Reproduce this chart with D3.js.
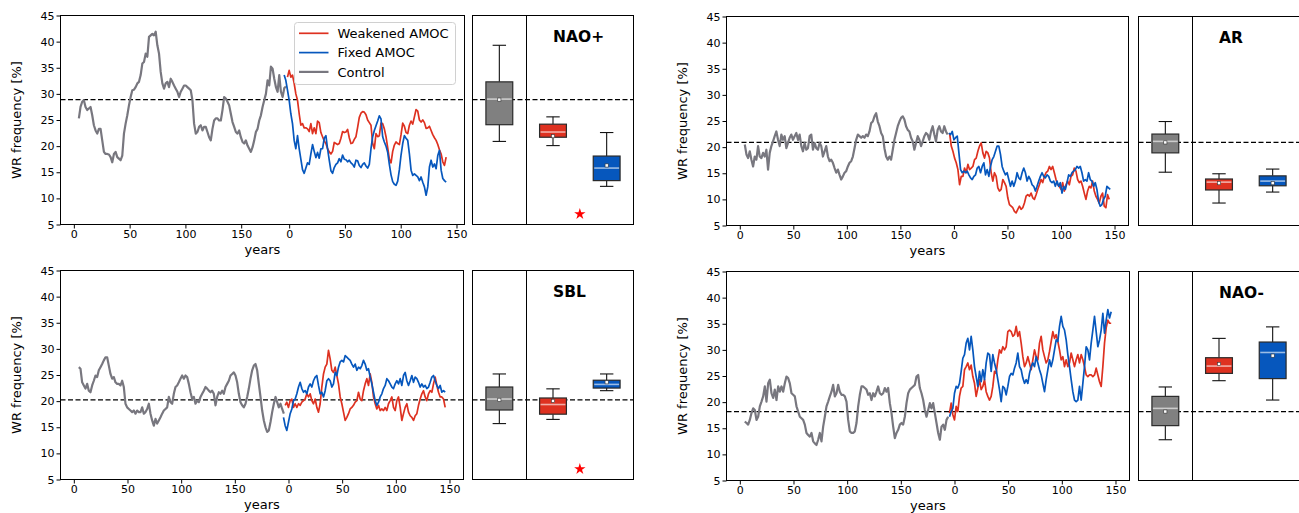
<!DOCTYPE html>
<html>
<head>
<meta charset="utf-8">
<script src="https://cdn.jsdelivr.net/npm/d3@7"></script>
<style>
body { margin: 0; background: #fff; }
text { font-family: "DejaVu Sans", sans-serif; fill: #000; }
</style>
</head>
<body>
<svg class="canvas"></svg>
<script>

// WR frequency [%], running values sampled every STEP years
// control years run from the start value, experiment years from their own start

var naoPlusCtl = [
	25.3, 27.5, 28.5, 28.8, 27.5, 26.9, 27.2, 27.5, 25.9, 24.0,
	23.0, 22.4, 23.3, 23.3, 21.1, 18.9, 18.5, 18.5, 18.4, 17.9,
	16.9, 18.5, 18.9, 17.9, 17.6, 17.3, 18.2, 22.4, 24.3, 25.9,
	27.8, 29.4, 30.7, 30.8, 31.3, 32.0, 32.3, 33.6, 35.8, 36.1,
	37.7, 37.1, 40.9, 41.2, 41.5, 41.2, 41.9, 39.3, 37.7, 34.2,
	32.0, 31.0, 32.0, 32.3, 31.3, 32.9, 32.3, 31.6, 31.0, 30.4,
	29.4, 30.4, 31.0, 31.6, 31.6, 31.3, 31.0, 30.7, 28.8, 24.3,
	22.4, 22.7, 23.7, 24.0, 23.0, 23.7, 23.7, 22.7, 21.7, 21.1,
	23.3, 24.9, 25.3, 25.3, 24.9, 24.9, 26.9, 29.4, 29.1, 28.5,
	27.8, 26.2, 24.6, 23.7, 22.7, 22.4, 23.0, 21.7, 20.8, 20.5,
	21.1, 20.1, 19.5, 18.9, 19.8, 21.1, 22.7, 23.3, 24.9, 25.9,
	27.5, 28.8, 30.0, 32.6, 31.6, 35.2, 34.8, 32.9, 31.3, 30.4,
	33.6, 30.4, 29.4, 31.1, 31.4];
var naoPlusWeak = [
	33.2, 34.5, 33.2, 33.6, 32.0, 30.0, 28.8, 26.2, 24.0, 24.3,
	23.5, 23.5, 23.3, 22.8, 24.3, 22.4, 23.5, 22.4, 24.8, 24.5,
	22.6, 21.8, 21.0, 20.5, 19.5, 18.9, 18.5, 19.0, 20.7, 20.5,
	20.3, 20.5, 21.5, 22.8, 22.6, 22.7, 23.2, 21.6, 20.5, 20.6,
	21.3, 21.8, 23.6, 25.5, 26.3, 26.6, 26.5, 26.0, 25.0, 24.5,
	24.0, 20.5, 19.5, 22.4, 21.8, 22.0, 24.4, 24.3, 23.3, 21.8,
	19.7, 17.5, 16.8, 19.0, 20.2, 20.8, 20.5, 20.3, 22.2, 24.4,
	23.8, 22.6, 22.4, 24.0, 24.8, 24.2, 25.6, 27.0, 26.7, 25.0,
	24.6, 25.0, 24.5, 23.4, 23.5, 23.8, 23.0, 22.2, 21.6, 21.1,
	20.3, 19.3, 18.5, 17.0, 16.3, 17.9];
var naoPlusFix = [
	33.6, 32.6, 30.7, 28.8, 26.2, 24.3, 21.1, 19.5, 22.0, 19.5,
	17.5, 15.5, 14.8, 15.8, 16.8, 16.5, 18.5, 20.3, 19.0, 17.8,
	18.8, 17.7, 19.5, 19.5, 21.5, 22.0, 19.5, 17.3, 15.3, 14.8,
	15.9, 16.5, 16.8, 17.6, 17.0, 18.3, 17.5, 17.4, 17.0, 17.3,
	16.8, 16.5, 16.0, 17.3, 17.2, 16.3, 15.9, 16.5, 16.8, 16.2,
	15.8, 16.5, 19.5, 21.8, 23.0, 23.9, 24.8, 25.8, 25.2, 21.8,
	20.8, 20.0, 18.8, 16.5, 14.5, 13.2, 12.7, 12.5, 13.3, 15.5,
	18.3, 20.5, 22.0, 21.5, 21.1, 18.5, 15.4, 14.4, 14.7, 14.4,
	14.1, 13.4, 14.1, 13.1, 12.2, 10.6, 12.2, 16.0, 17.3, 16.0,
	16.6, 15.7, 18.2, 19.2, 15.4, 13.8, 13.4, 13.1];

var arCtl = [
	20.5, 18.6, 17.9, 19.2, 17.6, 16.3, 18.2, 17.6, 20.2, 18.2,
	17.9, 18.9, 18.2, 19.5, 15.7, 18.9, 20.2, 21.1, 22.1, 23.0,
	21.4, 20.2, 22.4, 21.4, 22.1, 19.8, 20.8, 21.8, 22.4, 21.4,
	22.1, 22.7, 21.4, 22.4, 20.2, 19.2, 20.8, 19.5, 19.8, 22.1,
	22.4, 19.5, 20.8, 19.8, 19.5, 20.8, 20.2, 18.2, 19.2, 20.2,
	18.2, 17.3, 17.6, 17.0, 16.0, 15.1, 15.7, 14.7, 13.8, 14.4,
	15.1, 15.4, 16.3, 17.0, 17.3, 18.2, 19.8, 21.4, 22.4, 22.1,
	21.8, 22.1, 21.8, 22.4, 22.1, 23.0, 24.6, 24.9, 25.9, 26.5,
	24.9, 24.0, 22.7, 22.1, 19.8, 18.2, 17.6, 18.2, 17.6, 19.5,
	21.4, 22.7, 24.0, 24.9, 25.6, 25.9, 25.3, 24.0, 23.3, 23.0,
	21.8, 21.1, 19.5, 20.8, 22.1, 21.4, 20.2, 21.1, 22.1, 22.7,
	22.4, 21.4, 23.0, 24.0, 22.4, 21.1, 23.3, 24.0, 23.0, 22.7,
	24.0, 23.0, 22.4];
var arWeak = [
	22.7, 20.2, 19.2, 17.9, 17.0, 15.7, 12.8, 14.4, 14.4, 16.0,
	15.1, 16.7, 15.7, 16.0, 16.3, 17.6, 17.9, 19.2, 20.2, 20.8,
	18.9, 17.9, 19.2, 18.9, 17.9, 15.1, 13.5, 15.1, 14.4, 12.2,
	11.6, 11.9, 13.8, 13.2, 12.5, 10.3, 9.0, 8.7, 8.4, 7.7,
	7.4, 8.1, 8.7, 8.1, 8.4, 9.3, 10.6, 10.9, 10.6, 11.2,
	10.3, 10.0, 10.9, 11.9, 12.8, 13.8, 13.2, 14.4, 15.1, 15.4,
	16.3, 15.7, 16.3, 15.1, 13.8, 12.8, 12.5, 11.9, 13.2, 11.6,
	12.8, 13.5, 12.8, 14.4, 14.7, 16.0, 15.4, 13.8, 13.2, 13.5,
	12.5, 11.2, 10.0, 11.6, 12.5, 12.2, 13.5, 11.6, 10.6, 10.0,
	9.3, 10.6, 11.2, 8.7, 8.4, 10.9, 10.0];
var arFix = [
	22.7, 22.4, 23.0, 21.4, 21.8, 22.1, 18.9, 15.7, 15.1, 15.4,
	15.1, 15.4, 14.7, 14.1, 13.8, 14.4, 14.7, 16.0, 16.3, 15.1,
	16.3, 17.0, 14.7, 15.7, 14.4, 16.3, 17.6, 18.2, 19.2, 20.2,
	20.2, 18.6, 16.3, 15.4, 14.7, 15.1, 13.8, 12.5, 13.5, 12.5,
	13.5, 15.1, 14.1, 13.8, 15.1, 16.0, 15.1, 13.5, 14.4, 13.8,
	12.8, 12.5, 11.6, 12.5, 13.5, 14.4, 15.1, 14.4, 14.1, 14.7,
	14.4, 13.5, 13.2, 13.5, 12.5, 13.5, 12.5, 13.2, 11.2, 12.5,
	11.9, 13.2, 14.7, 14.4, 15.1, 15.4, 15.7, 16.3, 16.0, 16.3,
	15.1, 13.5, 13.8, 13.5, 15.1, 13.8, 13.5, 12.5, 13.2, 11.9,
	9.6, 8.7, 9.0, 10.0, 10.6, 12.5, 12.2, 11.9];

var sblCtl = [
	26.5, 26.2, 23.6, 23.0, 22.4, 23.3, 22.0, 21.7, 23.0, 23.9,
	24.9, 24.6, 25.9, 26.5, 27.1, 27.8, 28.4, 28.4, 26.8, 25.2,
	24.3, 24.6, 23.6, 23.3, 23.3, 23.0, 23.9, 22.7, 19.5, 18.8,
	18.5, 18.2, 17.9, 18.2, 17.6, 18.2, 17.9, 17.9, 18.8, 17.6,
	17.9, 18.5, 19.5, 17.6, 16.3, 15.3, 16.6, 15.7, 16.3, 16.9,
	17.6, 18.2, 18.5, 18.8, 20.8, 19.8, 19.5, 21.4, 22.7, 23.0,
	23.6, 24.3, 24.9, 24.3, 24.9, 24.6, 23.3, 21.7, 20.4, 20.8,
	19.5, 20.1, 19.8, 20.8, 21.4, 22.0, 22.7, 22.4, 22.0, 21.7,
	22.0, 21.4, 19.2, 20.8, 21.7, 21.4, 22.0, 21.4, 22.7, 23.3,
	23.9, 24.9, 25.2, 25.5, 24.9, 23.6, 21.4, 19.8, 19.2, 18.8,
	19.5, 20.8, 22.4, 24.3, 25.9, 26.8, 27.1, 25.9, 23.3, 20.8,
	18.2, 16.3, 15.0, 14.1, 14.4, 16.0, 17.9, 19.5, 20.8, 19.8,
	18.8, 19.5, 18.5, 17.6];
var sblWeak = [
	19.2, 19.8, 18.8, 20.1, 20.4, 18.8, 19.5, 18.8, 19.5, 19.2,
	19.8, 20.1, 20.4, 21.4, 20.8, 21.4, 20.1, 19.5, 20.4, 18.8,
	17.9, 19.5, 22.7, 25.2, 26.5, 27.1, 29.7, 28.1, 25.9, 25.5,
	26.5, 24.9, 23.3, 20.8, 19.5, 17.9, 16.3, 16.9, 17.6, 18.5,
	18.8, 19.2, 19.8, 20.1, 21.7, 20.4, 20.1, 22.0, 23.3, 24.3,
	23.0, 25.2, 23.6, 20.8, 19.5, 18.5, 19.2, 18.2, 18.5, 18.2,
	18.8, 18.2, 19.5, 20.1, 20.8, 18.8, 18.2, 20.1, 20.8, 18.8,
	16.3, 17.6, 18.8, 19.5, 17.9, 17.2, 16.9, 16.3, 17.2, 17.6,
	19.2, 20.4, 21.4, 22.0, 20.8, 20.1, 21.4, 22.0, 21.7, 23.3,
	24.6, 23.0, 21.7, 20.8, 20.8, 20.4, 18.8];
var sblFix = [
	16.9, 15.3, 14.4, 16.0, 17.6, 18.5, 20.1, 20.4, 21.4, 22.7,
	23.6, 22.4, 21.7, 22.0, 21.4, 22.7, 23.3, 22.7, 23.9, 24.6,
	24.9, 23.0, 21.4, 21.7, 20.8, 22.0, 23.9, 24.3, 23.9, 22.7,
	23.3, 25.5, 24.9, 26.5, 27.5, 27.8, 27.5, 28.7, 28.4, 28.1,
	27.8, 27.1, 26.5, 27.1, 25.9, 26.5, 26.2, 26.8, 27.8, 27.1,
	25.9, 26.2, 24.6, 23.3, 21.7, 20.1, 19.2, 19.8, 20.8, 21.4,
	22.4, 23.0, 24.3, 23.9, 23.3, 22.7, 22.4, 23.3, 23.9, 23.3,
	24.3, 23.0, 24.9, 25.5, 23.9, 23.0, 23.9, 24.9, 23.6, 24.6,
	24.3, 23.6, 22.7, 23.3, 22.7, 23.0, 22.4, 22.7, 23.6, 24.6,
	24.9, 23.9, 23.0, 22.4, 23.0, 21.7, 22.0, 21.7];

var naoMinusCtl = [
	16.3, 16.0, 15.7, 16.6, 17.9, 18.8, 18.5, 16.6, 17.2, 19.2,
	20.1, 21.1, 23.0, 20.1, 23.6, 24.3, 21.7, 20.8, 22.4, 20.4,
	23.0, 22.0, 23.0, 22.0, 23.6, 24.9, 24.6, 23.6, 21.7, 21.4,
	21.1, 19.2, 18.2, 17.2, 16.9, 16.6, 15.7, 14.1, 13.7, 13.4,
	14.1, 12.5, 12.1, 11.8, 12.8, 14.1, 12.5, 15.3, 17.2, 19.2,
	20.1, 21.1, 22.0, 23.3, 21.1, 21.7, 23.3, 22.0, 21.4, 21.4,
	21.1, 20.1, 16.6, 14.4, 14.1, 14.1, 14.4, 16.0, 19.2, 21.4,
	23.0, 23.0, 22.7, 22.4, 21.4, 21.7, 20.4, 21.7, 21.1, 22.0,
	23.0, 21.7, 21.4, 21.7, 22.7, 22.0, 22.7, 19.8, 17.9, 15.3,
	13.1, 14.1, 14.7, 15.7, 16.0, 15.7, 17.2, 19.8, 21.7, 22.4,
	22.7, 23.0, 23.3, 24.9, 25.2, 22.7, 21.7, 20.4, 18.5, 17.2,
	18.5, 19.8, 18.8, 19.8, 17.9, 16.0, 14.1, 12.8, 15.3, 15.7,
	14.7, 16.6, 17.2];
var naoMinusWeak = [
	17.9, 19.8, 17.6, 16.6, 19.2, 18.2, 21.1, 22.7, 23.0, 26.2,
	26.8, 27.5, 26.2, 27.1, 24.9, 23.6, 21.1, 22.7, 24.3, 22.4,
	23.0, 24.3, 22.0, 21.1, 20.4, 21.1, 23.0, 25.9, 25.5, 28.1,
	30.0, 29.4, 30.6, 30.0, 30.6, 33.5, 33.8, 33.5, 32.6, 32.9,
	34.5, 32.6, 33.5, 31.3, 28.7, 26.8, 27.5, 28.7, 27.5, 26.2,
	28.1, 30.0, 28.7, 28.1, 31.3, 32.6, 30.0, 28.7, 27.5, 28.1,
	29.7, 31.6, 33.5, 32.2, 32.9, 31.6, 30.0, 28.1, 28.7, 26.8,
	28.1, 26.8, 27.5, 29.4, 28.1, 26.8, 28.1, 29.1, 27.5, 29.1,
	28.1, 26.8, 25.2, 24.9, 25.2, 25.2, 24.9, 25.2, 26.5, 25.2,
	23.9, 23.0, 26.8, 31.3, 34.2, 35.7, 35.1, 35.1];
var naoMinusFix = [
	17.2, 18.2, 18.8, 21.7, 23.0, 22.7, 23.6, 25.9, 28.4, 29.1,
	31.3, 32.2, 30.0, 32.6, 30.0, 26.8, 24.9, 23.0, 25.9, 23.9,
	26.2, 24.3, 27.5, 29.4, 29.1, 25.9, 29.1, 27.5, 26.2, 24.3,
	22.4, 20.1, 23.0, 22.7, 21.4, 23.0, 24.9, 25.5, 25.2, 26.5,
	27.5, 29.4, 26.8, 26.2, 24.6, 23.6, 24.3, 23.6, 25.5, 26.8,
	27.5, 26.8, 28.7, 27.5, 26.2, 25.2, 23.6, 22.0, 24.3, 26.2,
	28.1, 26.8, 28.1, 30.0, 31.9, 31.6, 34.5, 36.4, 34.5, 33.8,
	31.9, 29.1, 26.8, 24.3, 22.0, 20.4, 20.1, 20.4, 23.0, 20.4,
	23.6, 26.8, 30.6, 30.0, 28.1, 31.3, 33.8, 36.4, 33.5, 30.6,
	31.9, 33.8, 37.0, 33.2, 35.7, 37.7, 36.1, 37.3];

// box stats per run: [whisker low, q1, median, q3, whisker high, mean]
var naoPlusBoxes = [[20.9, 24.1, 29.0, 32.3, 39.3, 28.9], [20.1, 21.7, 22.7, 24.2, 25.6, 21.9], [12.3, 13.4, 15.8, 18.1, 22.6, 16.3]];
var arBoxes = [[15.2, 18.9, 21.1, 22.5, 24.9, 20.9], [9.3, 11.8, 13.3, 13.9, 14.9, 13.1], [11.4, 12.6, 13.5, 14.5, 15.8, 13.1]];
var sblBoxes = [[15.7, 18.3, 20.4, 22.7, 25.2, 20.25], [16.5, 17.5, 19.35, 20.6, 22.35, 20.05], [22.0, 22.5, 23.2, 24.0, 25.2, 23.6]];
var naoMinusBoxes = [[12.8, 15.5, 18.8, 21.1, 22.9, 18.2], [24.1, 25.5, 26.9, 28.5, 32.2, 27.3], [20.4, 24.5, 29.5, 31.5, 34.4, 28.9]];

// control climatology
var ctlMeans = [28.9, 20.9, 20.25, 18.2];
var regimes = ["NAO+", "AR", "SBL", "NAO-"];
var yearTicks = [0, 50, 100, 150];
var legendNames = ["Weakened AMOC", "Fixed AMOC", "Control"];

var WIDTH = 1299, HEIGHT = 513;
var RED = "#de3120", BLUE = "#0657bd", GREY_LINE = "#78777f", GREY_BOX = "#808080";
var YMIN = 5, YMAX = 45;
var BOX_W = 0.5, CAP_W = 0.25;

var panels = [
	{ name: regimes[0], mean: ctlMeans[0], ctl: naoPlusCtl, weak: naoPlusWeak, fix: naoPlusFix, boxes: naoPlusBoxes,
	  step: 1.497, ctlStart: 4.49, weakStart: -1.5, fixStart: -4.49, offset: 193, star: 7, legend: true,
	  lx0: 60.5, lx1: 464.5, bx0: 472.5, bx1: 633.5, top: 15.5, bottom: 224.5 },
	{ name: regimes[1], mean: ctlMeans[1], ctl: arCtl, weak: arWeak, fix: arFix, boxes: arBoxes,
	  step: 1.553, ctlStart: 4.66, weakStart: -4.04, fixStart: -4.66, offset: 200, star: null,
	  lx0: 726.5, lx1: 1128.5, bx0: 1138.5, bx1: 1299.5, top: 16.5, bottom: 225.5 },
	{ name: regimes[2], mean: ctlMeans[2], ctl: sblCtl, weak: sblWeak, fix: sblFix, boxes: sblBoxes,
	  step: 1.553, ctlStart: 4.65, weakStart: -3.1, fixStart: -4.65, offset: 200, star: 7,
	  lx0: 60.5, lx1: 463.5, bx0: 472.5, bx1: 633.5, top: 270.5, bottom: 479.5 },
	{ name: regimes[3], mean: ctlMeans[3], ctl: naoMinusCtl, weak: naoMinusWeak, fix: naoMinusFix, boxes: naoMinusBoxes,
	  step: 1.553, ctlStart: 4.65, weakStart: -4.65, fixStart: -4.65, offset: 200, star: null,
	  lx0: 726.5, lx1: 1129.5, bx0: 1138.5, bx1: 1299.5, top: 271.5, bottom: 480.5 }
];

var svg = d3.select(".canvas")
	.attr("width", WIDTH)
	.attr("height", HEIGHT);

panels.forEach(drawPanel);

function drawPanel(p) {
	var g = svg.append("g");

	var y = d3.scaleLinear().domain([YMIN, YMAX]).range([p.bottom, p.top]);

	// x domain padded 5% like matplotlib autoscaling
	var weakEnd = p.weakStart + (p.weak.length - 1) * p.step;
	var fixEnd = p.fixStart + (p.fix.length - 1) * p.step;
	var tMin = p.ctlStart, tMax = p.offset + Math.max(weakEnd, fixEnd);
	var pad = 0.05 * (tMax - tMin);
	var x = d3.scaleLinear().domain([tMin - pad, tMax + pad]).range([p.lx0, p.lx1]);

	function series(vals, start, shift) {
		return vals.map(function(v, i) { return [shift + start + i * p.step, v]; });
	}
	var line = d3.line()
		.x(function(d) { return x(d[0]); })
		.y(function(d) { return y(d[1]); });

	g.append("line")
		.attr("x1", p.lx0).attr("x2", p.lx1)
		.attr("y1", y(p.mean)).attr("y2", y(p.mean))
		.attr("stroke", "#000").attr("stroke-width", 1.2)
		.attr("stroke-dasharray", "5,2.5");

	var runs = [
		[series(p.ctl, p.ctlStart, 0), GREY_LINE, 2.2],
		[series(p.weak, p.weakStart, p.offset), RED, 1.7],
		[series(p.fix, p.fixStart, p.offset), BLUE, 1.7]
	];
	runs.forEach(function(r) {
		g.append("path")
			.datum(r[0])
			.attr("d", line)
			.attr("fill", "none")
			.attr("stroke", r[1])
			.attr("stroke-width", r[2])
			.attr("stroke-linejoin", "round");
	});

	// axes
	var tickT = yearTicks.concat(yearTicks.map(function(v) { return v + p.offset; }));
	var xAxis = d3.axisBottom(x)
		.tickValues(tickT)
		.tickFormat(function(d, i) { return yearTicks[i % 4]; })
		.tickSize(4).tickPadding(2);
	var yAxis = d3.axisLeft(y)
		.tickValues(d3.range(5, 46, 5))
		.tickSize(4).tickPadding(2);

	var gx = g.append("g").attr("transform", "translate(0," + p.bottom + ")").call(xAxis);
	var gy = g.append("g").attr("transform", "translate(" + p.lx0 + ",0)").call(yAxis);
	[gx, gy].forEach(function(a) {
		a.select(".domain").remove();
		a.selectAll("line").attr("stroke", "#000");
		a.selectAll("text")
			.attr("font-family", "DejaVu Sans, sans-serif")
			.attr("font-size", 11)
			.attr("fill", "#000");
	});

	g.append("rect")
		.attr("x", p.lx0).attr("y", p.top)
		.attr("width", p.lx1 - p.lx0).attr("height", p.bottom - p.top)
		.attr("fill", "none").attr("stroke", "#000").attr("stroke-width", 1);

	g.append("text")
		.attr("x", (p.lx0 + p.lx1) / 2)
		.attr("y", p.bottom + 29)
		.attr("text-anchor", "middle")
		.attr("font-size", 13)
		.text("years");

	g.append("text")
		.attr("transform", "translate(" + (p.lx0 - 39.5) + "," + ((p.top + p.bottom) / 2) + ") rotate(-90)")
		.attr("text-anchor", "middle")
		.attr("font-size", 13)
		.text("WR frequency [%]");

	if (p.legend) drawLegend(g);

	drawBoxes(g, p, y);
}

function drawBoxes(g, p, y) {
	var bx = d3.scaleLinear().domain([0.5, 3.5]).range([p.bx0, p.bx1]);
	var unit = bx(1) - bx(0);
	var fills = [GREY_BOX, RED, BLUE];

	g.append("line")
		.attr("x1", p.bx0).attr("x2", p.bx1)
		.attr("y1", y(p.mean)).attr("y2", y(p.mean))
		.attr("stroke", "#000").attr("stroke-width", 1.2)
		.attr("stroke-dasharray", "5,2.5");

	g.append("line")
		.attr("x1", Math.round(bx(1.5)) + 0.5).attr("x2", Math.round(bx(1.5)) + 0.5)
		.attr("y1", p.top).attr("y2", p.bottom)
		.attr("stroke", "#000").attr("stroke-width", 1);

	var box = g.selectAll("g.box").data(p.boxes)
		.enter().append("g")
		.attr("class", "box")
		.attr("transform", function(d, i) { return "translate(" + bx(i + 1) + ",0)"; });

	// whiskers
	box.append("line")
		.attr("x1", 0).attr("x2", 0)
		.attr("y1", function(d) { return y(d[4]); })
		.attr("y2", function(d) { return y(d[3]); })
		.attr("stroke", "#111").attr("stroke-width", 1.1);
	box.append("line")
		.attr("x1", 0).attr("x2", 0)
		.attr("y1", function(d) { return y(d[1]); })
		.attr("y2", function(d) { return y(d[0]); })
		.attr("stroke", "#111").attr("stroke-width", 1.1);
	[0, 4].forEach(function(k) {
		box.append("line")
			.attr("x1", -CAP_W * unit / 2).attr("x2", CAP_W * unit / 2)
			.attr("y1", function(d) { return y(d[k]); })
			.attr("y2", function(d) { return y(d[k]); })
			.attr("stroke", "#111").attr("stroke-width", 1.1);
	});

	box.append("rect")
		.attr("x", -BOX_W * unit / 2)
		.attr("width", BOX_W * unit)
		.attr("y", function(d) { return y(d[3]); })
		.attr("height", function(d) { return y(d[1]) - y(d[3]); })
		.attr("fill", function(d, i) { return fills[i]; })
		.attr("stroke", "#2a2a2a").attr("stroke-width", 1.2);

	box.append("line")
		.attr("x1", -BOX_W * unit / 2 + 1).attr("x2", BOX_W * unit / 2 - 1)
		.attr("y1", function(d) { return y(d[2]); })
		.attr("y2", function(d) { return y(d[2]); })
		.attr("stroke", "#fff").attr("stroke-opacity", 0.6).attr("stroke-width", 1.6);

	box.append("rect")
		.attr("x", -1.6).attr("width", 3.2)
		.attr("y", function(d) { return y(d[5]) - 1.6; }).attr("height", 3.2)
		.attr("fill", "#fff").attr("stroke", "#333").attr("stroke-width", 0.6);

	if (p.star != null) {
		g.append("path")
			.attr("d", d3.symbol().type(d3.symbolStar).size(40)())
			.attr("transform", "translate(" + bx(2.5) + "," + y(p.star) + ")")
			.attr("fill", "#ff0000");
	}

	g.append("rect")
		.attr("x", p.bx0).attr("y", p.top)
		.attr("width", p.bx1 - p.bx0).attr("height", p.bottom - p.top)
		.attr("fill", "none").attr("stroke", "#000").attr("stroke-width", 1);

	g.append("text")
		.attr("x", bx(2))
		.attr("y", y(40))
		.attr("font-size", 15.5)
		.attr("font-weight", "bold")
		.text(p.name);
}

function drawLegend(g) {
	var colors = [RED, BLUE, GREY_LINE];
	var widths = [1.7, 1.7, 2.2];
	g.append("rect")
		.attr("x", 294.5).attr("y", 22.5)
		.attr("width", 161).attr("height", 62)
		.attr("rx", 3).attr("ry", 3)
		.attr("fill", "#fff").attr("fill-opacity", 0.8)
		.attr("stroke", "#d0d0d0").attr("stroke-width", 1);

	var item = g.selectAll("g.leg").data(legendNames)
		.enter().append("g")
		.attr("class", "leg")
		.attr("transform", function(d, i) { return "translate(299," + (33.3 + i * 19.3) + ")"; });

	item.append("line")
		.attr("x1", 0).attr("x2", 29.5)
		.attr("y1", 0).attr("y2", 0)
		.attr("stroke", function(d, i) { return colors[i]; })
		.attr("stroke-width", function(d, i) { return widths[i]; });

	item.append("text")
		.attr("x", 38.5)
		.attr("dy", "0.36em")
		.attr("font-size", 13)
		.text(function(d) { return d; });
}

</script>
</body>
</html>
